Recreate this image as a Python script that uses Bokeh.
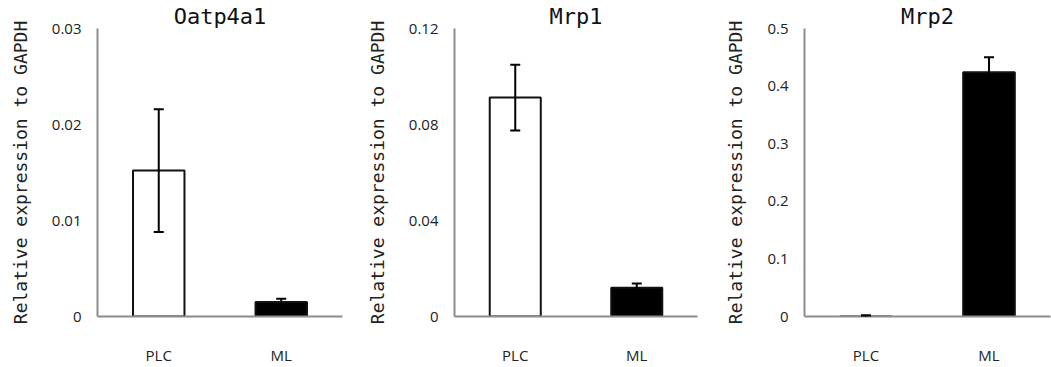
from bokeh.plotting import figure
from bokeh.layouts import row
from bokeh.models import (ColumnDataSource, Range1d, FixedTicker, NumeralTickFormatter,
                          Whisker, TeeHead)
from bokeh.embed import file_html
from bokeh.resources import INLINE

# ---- data ----
categories = ["PLC", "ML"]

oatp_mean = [0.0152, 0.00152]
oatp_err = [0.0064, 0.00034]
oatp_ticks = [0, 0.01, 0.02, 0.03]

mrp1_mean = [0.0912, 0.0120]
mrp1_err = [0.0137, 0.0017]
mrp1_ticks = [0, 0.04, 0.08, 0.12]

mrp2_mean = [0.0002, 0.4240]
mrp2_err = [0.0018, 0.0260]
mrp2_ticks = [0, 0.1, 0.2, 0.3, 0.4, 0.5]

titles = ["Oatp4a1", "Mrp1", "Mrp2"]
y_title = "Relative expression to GAPDH"

# ---- styles ----
bar_fills = ["#ffffff", "#000000"]
AXIS_GRAY = "#8c8c8c"
INK = "#000000"
MONO = "DejaVu Sans Mono"
SANS = "Open Sans"


def panel(title, means, errs, ticks, width, left, right, title_offset):
    p = figure(x_range=categories, y_range=Range1d(0, ticks[-1]),
               width=width, height=367, output_backend="svg", toolbar_location=None,
               min_border_left=left, min_border_right=right,
               min_border_top=28, min_border_bottom=49)
    lower = [max(0.0, m - e) for m, e in zip(means, errs)]
    upper = [m + e for m, e in zip(means, errs)]
    src = ColumnDataSource(dict(cat=categories, mean=means, lower=lower,
                                upper=upper, fill=bar_fills))
    p.vbar(x="cat", top="mean", width=0.42, source=src, fill_color="fill",
           line_color="#111111", line_width=2)
    w = Whisker(base="cat", upper="upper", lower="lower", source=src,
                line_color=INK, line_width=2, level="annotation",
                upper_head=TeeHead(size=10, line_color=INK, line_width=2),
                lower_head=TeeHead(size=10, line_color=INK, line_width=2))
    p.add_layout(w)

    p.xgrid.visible = False
    p.ygrid.visible = False
    p.outline_line_color = None

    for ax in (p.xaxis[0], p.yaxis[0]):
        ax.axis_line_color = AXIS_GRAY
        ax.axis_line_width = 2
        ax.major_tick_line_color = None
        ax.minor_tick_line_color = None
        ax.major_tick_out = 0
        ax.major_tick_in = 0
        ax.major_label_text_font = SANS
        ax.major_label_text_font_size = "15px"
        ax.major_label_text_color = "#222222"

    p.xaxis.major_label_standoff = 28
    p.yaxis.ticker = FixedTicker(ticks=ticks)
    p.yaxis.formatter = NumeralTickFormatter(format="0.[00]")
    p.yaxis.major_label_standoff = 16
    p.yaxis.axis_label = y_title
    p.yaxis.axis_label_text_font = MONO
    p.yaxis.axis_label_text_font_style = "normal"
    p.yaxis.axis_label_text_font_size = "18px"
    p.yaxis.axis_label_text_color = "#222222"
    p.yaxis.axis_label_standoff = 18

    p.title.text = title
    p.title.text_font = MONO
    p.title.text_font_style = "normal"
    p.title.text_font_size = "22px"
    p.title.text_color = "#111111"
    p.title.align = "center"
    p.title.offset = title_offset
    p.title.standoff = 0
    return p


p1 = panel(titles[0], oatp_mean, oatp_err, oatp_ticks, 350, 97, 8, 0)
p2 = panel(titles[1], mrp1_mean, mrp1_err, mrp1_ticks, 350, 104, 3, -7)
p3 = panel(titles[2], mrp2_mean, mrp2_err, mrp2_ticks, 351, 104, 1, -18)

layout = row(p1, p2, p3)
open("out.html", "w").write(file_html(layout, INLINE))
